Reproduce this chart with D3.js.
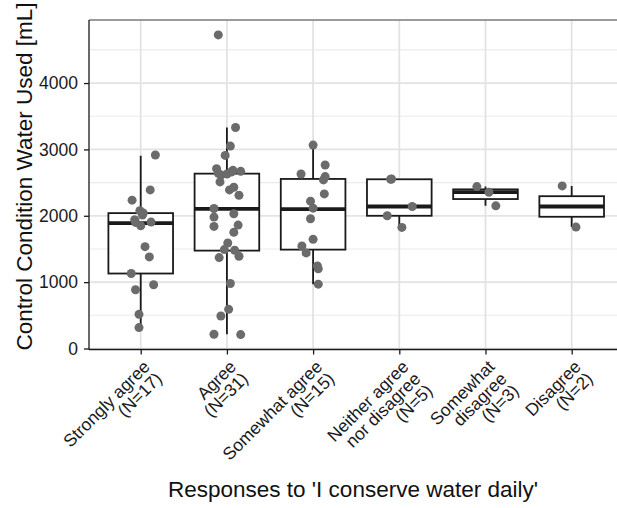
<!DOCTYPE html>
<html>
<head>
<meta charset="utf-8">
<script src="https://cdn.jsdelivr.net/npm/d3@7"></script>
<style>
  html, body { margin: 0; padding: 0; background: #fff; }
  svg { display: block; font-family: "Liberation Sans", Arial, sans-serif; }
</style>
</head>
<body>
<svg id="chart" width="617" height="508"></svg>
<script>
// ---- data ----
const categories = ["Strongly agree", "Agree", "Somewhat agree", "Neither agree\nnor disagree", "Somewhat\ndisagree", "Disagree"];
const counts = [17, 31, 15, 5, 3, 2];

// box statistics (lower whisker, Q1, median, Q3, upper whisker)
const whiskerLow  = [315, 215, 970, 1825, 2150, 1830];
const q1Values    = [1130, 1475, 1490, 2000, 2252, 1985];
const medians     = [1890, 2105, 2100, 2140, 2355, 2140];
const q3Values    = [2040, 2635, 2555, 2550, 2398, 2295];
const whiskerHigh = [2905, 3330, 3065, 2550, 2440, 2450];

// jittered observations: values and horizontal jitter (fraction of category step)
const valuesSA = [2915, 2390, 2235, 2075, 2040, 1940, 1850, 1905, 1535, 1380, 1130, 885, 960, 515, 315, 1900, 2010];
const jitterSA = [0.17, 0.11, -0.10, -0.01, 0.03, -0.07, 0.00, 0.12, 0.05, 0.10, -0.11, -0.06, 0.15, -0.02, -0.02, -0.06, 0.02];
const valuesA = [4725, 3330, 3050, 2910, 2710, 2640, 2615, 2630, 2685, 2670, 2510, 2390, 2430, 2310, 2110, 1980, 2030, 1840, 1860, 1750, 1590, 1490, 1480, 1390, 1370, 980, 590, 490, 215, 210, 2660];
const jitterA = [-0.10, 0.10, 0.04, -0.02, -0.12, -0.10, -0.07, 0.00, 0.07, 0.16, -0.08, 0.03, 0.08, 0.14, -0.15, -0.15, 0.08, -0.15, 0.13, 0.08, 0.01, -0.03, 0.09, 0.14, -0.09, 0.04, 0.02, -0.07, -0.15, 0.16, 0.05];
const valuesSWA = [3065, 2765, 2630, 2590, 2540, 2330, 2220, 2115, 1955, 1645, 1545, 1440, 1245, 1200, 970];
const jitterSWA = [0.00, 0.14, -0.14, 0.14, 0.12, 0.13, -0.03, 0.00, -0.03, 0.00, -0.13, -0.08, 0.05, 0.06, 0.06];
const valuesN = [2550, 2140, 2000, 1825, 2555];
const jitterN = [-0.10, 0.15, -0.14, 0.03, -0.09];
const valuesSWD = [2440, 2355, 2150];
const jitterSWD = [-0.10, 0.04, 0.12];
const valuesD = [2450, 1830];
const jitterD = [-0.11, 0.05];

const yTicks = [0, 1000, 2000, 3000, 4000];
const yMinor = [500, 1500, 2500, 3500, 4500];
const xTitle = "Responses to 'I conserve water daily'";
const yTitle = "Control Condition Water Used [mL]";

// ---- layout ----
const svg = d3.select("#chart");
const pLeft = 89, pRight = 623.4, pTop = 20, pBottom = 349.5;

const x = d3.scalePoint().domain(d3.range(categories.length)).range([pLeft, pRight]).padding(0.6);
const step = x.step();
const y = d3.scaleLinear().domain([-15, 4950]).range([pBottom, pTop]);

svg.append("defs").append("clipPath").attr("id", "panel")
  .append("rect").attr("x", pLeft).attr("y", pTop).attr("width", pRight - pLeft).attr("height", pBottom - pTop);

const panel = svg.append("g").attr("clip-path", "url(#panel)");
panel.append("rect").attr("x", pLeft).attr("y", pTop).attr("width", pRight - pLeft).attr("height", pBottom - pTop).attr("fill", "#fff");

// gridlines
panel.selectAll(".minor").data(yMinor).join("line")
  .attr("x1", pLeft).attr("x2", pRight).attr("y1", d => y(d)).attr("y2", d => y(d))
  .attr("stroke", "#ebebeb").attr("stroke-width", 1.1);
panel.selectAll(".major").data(yTicks).join("line")
  .attr("x1", pLeft).attr("x2", pRight).attr("y1", d => y(d)).attr("y2", d => y(d))
  .attr("stroke", "#e3e3e3").attr("stroke-width", 1.7);
panel.selectAll(".vmajor").data(d3.range(categories.length)).join("line")
  .attr("x1", d => x(d)).attr("x2", d => x(d)).attr("y1", pTop).attr("y2", pBottom)
  .attr("stroke", "#e3e3e3").attr("stroke-width", 1.8);

// boxes
const boxW = step * 0.75;
const ink = "#1a1a1a";
const boxes = panel.selectAll(".box").data(d3.range(categories.length)).join("g");
boxes.append("line")
  .attr("x1", i => x(i)).attr("x2", i => x(i))
  .attr("y1", i => y(q3Values[i])).attr("y2", i => y(whiskerHigh[i]))
  .attr("stroke", ink).attr("stroke-width", 1.8);
boxes.append("line")
  .attr("x1", i => x(i)).attr("x2", i => x(i))
  .attr("y1", i => y(q1Values[i])).attr("y2", i => y(whiskerLow[i]))
  .attr("stroke", ink).attr("stroke-width", 1.8);
boxes.append("rect")
  .attr("x", i => x(i) - boxW / 2).attr("width", boxW)
  .attr("y", i => y(q3Values[i])).attr("height", i => y(q1Values[i]) - y(q3Values[i]))
  .attr("fill", "#fff").attr("stroke", ink).attr("stroke-width", 1.8);
boxes.append("line")
  .attr("x1", i => x(i) - boxW / 2).attr("x2", i => x(i) + boxW / 2)
  .attr("y1", i => y(medians[i])).attr("y2", i => y(medians[i]))
  .attr("stroke", ink).attr("stroke-width", 3.8);

// points
const groups = [[valuesSA, jitterSA], [valuesA, jitterA], [valuesSWA, jitterSWA], [valuesN, jitterN], [valuesSWD, jitterSWD], [valuesD, jitterD]];
const pts = [];
groups.forEach(([vals, jit], i) => vals.forEach((v, k) => pts.push({ i, v, j: jit[k] })));
panel.selectAll(".pt").data(pts).join("circle")
  .attr("cx", d => x(d.i) + d.j * step).attr("cy", d => y(d.v)).attr("r", 4.5)
  .attr("fill", "#6b6b6b");

// panel border (top grey), axes
svg.append("line").attr("x1", pLeft).attr("x2", pRight).attr("y1", pTop).attr("y2", pTop)
  .attr("stroke", "#7a7a7a").attr("stroke-width", 1.3);

const yAxis = svg.append("g").attr("transform", `translate(${pLeft},0)`)
  .call(d3.axisLeft(y).tickValues(yTicks).tickSize(5).tickPadding(6).tickFormat(d3.format("d")));
yAxis.select(".domain").attr("d", `M0,${pTop}V${pBottom}`).attr("stroke", ink).attr("stroke-width", 1.3);
yAxis.selectAll(".tick line").attr("stroke", ink).attr("stroke-width", 1.3);
yAxis.selectAll(".tick text").attr("font-size", 17.5).attr("fill", "#1a1a1a")
  .attr("font-family", "Liberation Sans, Arial, sans-serif");

const xAxis = svg.append("g").attr("transform", `translate(0,${pBottom})`)
  .call(d3.axisBottom(x).tickSize(5).tickFormat(""));
xAxis.select(".domain").attr("d", `M${pLeft},0H${pRight}`).attr("stroke", ink).attr("stroke-width", 1.3);
xAxis.selectAll(".tick line").attr("stroke", ink).attr("stroke-width", 1.3);

// rotated two-line category labels
const fs = 17.5, lh = 17;
const lab = svg.append("g").selectAll("g").data(d3.range(categories.length)).join("g")
  .attr("transform", i => `translate(${x(i) + 1},${pBottom + 9}) rotate(-45)`);
lab.each(function(i) {
  const lines = categories[i].split("\n").concat([`(N=${counts[i]})`]);
  const t = d3.select(this).append("text").attr("text-anchor", "end")
    .attr("font-size", fs).attr("fill", "#1a1a1a");
  lines.forEach((ln, k) => t.append("tspan").attr("x", 0).attr("y", fs * 0.75 + k * lh).text(ln));
});

// titles
svg.append("text").attr("x", 353).attr("y", 497)
  .attr("text-anchor", "middle").attr("font-size", 22.5).attr("fill", "#111").text(xTitle);
svg.append("text").attr("transform", `translate(32,176.5) rotate(-90)`)
  .attr("text-anchor", "middle").attr("font-size", 22.5).attr("fill", "#111").text(yTitle);
</script>
</body>
</html>
